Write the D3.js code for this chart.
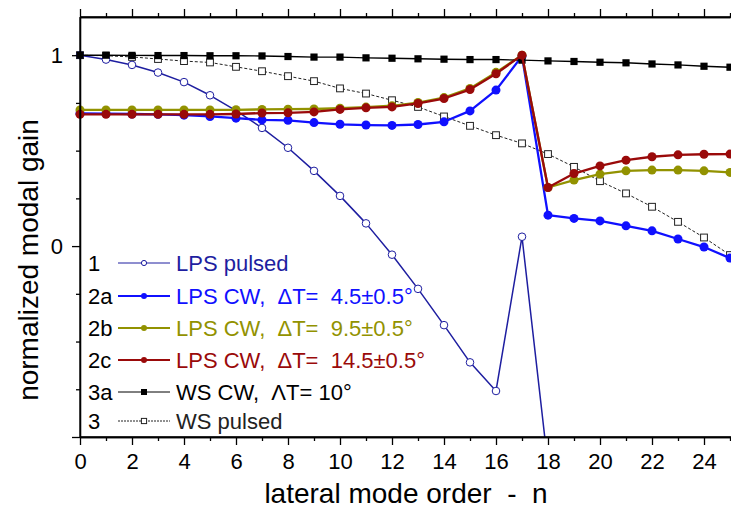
<!DOCTYPE html>
<html><head><meta charset="utf-8">
<script src="https://cdn.jsdelivr.net/npm/d3@7"></script>
<style>body{margin:0;background:#fff}svg{display:block;font-family:Arial,"Liberation Sans",sans-serif}</style>
</head><body><svg id="c" width="731" height="508"></svg>
<script>
// ---------- data ----------
const modeOrder = [0,1,2,3,4,5,6,7,8,9,10,11,12,13,14,15,16,17,18,19,20,21,22,23,24,25];
const lpsPulsed = [1.0,0.977,0.949,0.909,0.859,0.79,0.71,0.619,0.515,0.394,0.263,0.119,-0.045,-0.224,-0.414,-0.609,-0.759,0.049,-1.15];
const lpsCW45  = [0.695,0.694,0.692,0.69,0.686,0.679,0.670,0.661,0.659,0.647,0.638,0.634,0.632,0.637,0.651,0.708,0.817,0.995,0.162,0.145,0.132,0.106,0.08,0.037,-0.005,-0.063];
const lpsCW95  = [0.713,0.713,0.713,0.713,0.713,0.713,0.714,0.716,0.717,0.718,0.722,0.728,0.735,0.752,0.778,0.826,0.91,1.0,0.307,0.346,0.377,0.394,0.398,0.398,0.394,0.386];
const lpsCW145 = [0.69,0.69,0.69,0.69,0.69,0.69,0.692,0.697,0.698,0.703,0.716,0.724,0.729,0.747,0.773,0.82,0.903,1.0,0.307,0.38,0.42,0.45,0.468,0.478,0.481,0.482];
const wsCW     = [1.0,1.0,0.999,0.998,0.998,0.997,0.997,0.996,0.993,0.99,0.99,0.986,0.984,0.981,0.979,0.977,0.977,0.974,0.970,0.967,0.963,0.96,0.954,0.949,0.942,0.937];
const wsPulsed = [1.0,0.997,0.991,0.98,0.969,0.962,0.939,0.916,0.890,0.864,0.826,0.799,0.764,0.729,0.679,0.630,0.581,0.538,0.482,0.415,0.340,0.276,0.206,0.127,0.045,-0.047];
const xMajorTicks = [0,2,4,6,8,10,12,14,16,18,20,22,24];
const xMinorTicks = [1,3,5,7,9,11,13,15,17,19,21,23,25];
const yMajorTicks = [-1,0,1];
const yMinorTicks = [-0.75,-0.5,-0.25,0.25,0.5,0.75];
const yTickLabels = {"0":"0","1":"1"};
const legendIds = ["1","2a","2b","2c","3a","3"];
const legendLabels = ["LPS pulsed","LPS CW,  ΔT=  4.5±0.5°","LPS CW,  ΔT=  9.5±0.5°","LPS CW,  ΔT=  14.5±0.5°","WS CW,  ΛT= 10°","WS pulsed"];
const xTitle = "lateral mode order  -  n";
const yTitle = "normalized modal gain";

// ---------- styles ----------
const styles = {
  "1":  {color:"#1e1ea0", width:1.5, dash:null, marker:"ocircle", r:3.8},
  "2a": {color:"#1010ff", width:2.3, dash:null, marker:"circle", r:4.5},
  "2b": {color:"#929200", width:2.3, dash:null, marker:"circle", r:4.5},
  "2c": {color:"#9a0a0a", width:2.3, dash:null, marker:"circle", r:4.5},
  "3a": {color:"#000000", width:1.4, dash:null, marker:"square", r:3.6},
  "3":  {color:"#222222", width:1.0, dash:"3,2", marker:"osquare", r:3.4}
};
const seriesValues = {"1":lpsPulsed,"2a":lpsCW45,"2b":lpsCW95,"2c":lpsCW145,"3a":wsCW,"3":wsPulsed};
const drawOrder = ["3","1","2a","2b","3a","2c"];

const svg = d3.select("#c");
const L=80, R=730, T=17, B=437;
const x = d3.scaleLinear([0,25],[L,R]);
const y = d3.scaleLinear([-1,1.2],[B,T]);

svg.append("defs").append("clipPath").attr("id","clip")
  .append("rect").attr("x",0).attr("y",T).attr("width",731).attr("height",B-T);

const gData = svg.append("g").attr("clip-path","url(#clip)");
function drawMarker(g, type, cx, cy, r, color){
  if(type==="circle") g.append("circle").attr("cx",cx).attr("cy",cy).attr("r",r).attr("fill",color);
  else if(type==="ocircle") g.append("circle").attr("cx",cx).attr("cy",cy).attr("r",r).attr("fill","#fff").attr("stroke",color).attr("stroke-width",1);
  else if(type==="square") g.append("rect").attr("x",cx-r).attr("y",cy-r).attr("width",2*r).attr("height",2*r).attr("fill",color);
  else if(type==="osquare") g.append("rect").attr("x",cx-r).attr("y",cy-r).attr("width",2*r).attr("height",2*r).attr("fill","#fff").attr("stroke",color).attr("stroke-width",1);
}
drawOrder.forEach(id=>{
  const st = styles[id];
  const vals = seriesValues[id];
  const pts = vals.map((v,i)=>[modeOrder[i], v]);
  const line = d3.line().x(d=>x(d[0])).y(d=>y(d[1]));
  gData.append("path").attr("d",line(pts)).attr("fill","none")
    .attr("stroke",st.color).attr("stroke-width",st.width)
    .attr("stroke-dasharray",st.dash).attr("stroke-linejoin","round");
  const gm = gData.append("g");
  pts.forEach(p=>drawMarker(gm, st.marker, x(p[0]), y(p[1]), st.r, st.color));
});

// ---------- axes ----------
const axStyle = g=>{g.selectAll("path,line").attr("stroke","#000").attr("stroke-width",1.3);
  g.selectAll("text").attr("font-size",22).attr("fill","#000").attr("font-family","Arial, 'Liberation Sans', sans-serif");};
svg.append("g").attr("transform",`translate(0,${B})`)
  .call(d3.axisBottom(x).tickValues(xMajorTicks).tickSize(8).tickSizeOuter(0).tickPadding(8).tickFormat(d3.format("d"))).call(axStyle);
svg.append("g").attr("transform",`translate(0,${B})`)
  .call(d3.axisBottom(x).tickValues(xMinorTicks).tickSize(4).tickSizeOuter(0).tickFormat("")).call(axStyle);
svg.append("g").attr("transform",`translate(0,${T})`)
  .call(d3.axisTop(x).tickValues(xMajorTicks).tickSize(8).tickSizeOuter(0).tickFormat("")).call(axStyle);
svg.append("g").attr("transform",`translate(0,${T})`)
  .call(d3.axisTop(x).tickValues(xMinorTicks).tickSize(4).tickSizeOuter(0).tickFormat("")).call(axStyle);
svg.append("g").attr("transform",`translate(${L},0)`)
  .call(d3.axisLeft(y).tickValues(yMajorTicks).tickSize(8).tickSizeOuter(0).tickPadding(9).tickFormat(d=>yTickLabels[String(d)]||"")).call(axStyle);
svg.append("g").attr("transform",`translate(${L},0)`)
  .call(d3.axisLeft(y).tickValues(yMinorTicks).tickSize(4).tickSizeOuter(0).tickFormat("")).call(axStyle);
svg.append("line").attr("x1",L).attr("x2",731).attr("y1",T).attr("y2",T).attr("stroke","#000").attr("stroke-width",1.3);
svg.append("line").attr("x1",L).attr("x2",L).attr("y1",T).attr("y2",B).attr("stroke","#000").attr("stroke-width",1.3);
svg.append("line").attr("x1",L).attr("x2",731).attr("y1",B).attr("y2",B).attr("stroke","#000").attr("stroke-width",1.3);

// ---------- titles ----------
svg.append("text").attr("x",406).attr("y",503).attr("text-anchor","middle").attr("font-size",28).attr("fill","#000")
  .style("white-space","pre").text(xTitle);
svg.append("text").attr("transform","translate(38,260) rotate(-90)").attr("text-anchor","middle").attr("font-size",28).attr("fill","#000").text(yTitle);

// ---------- legend ----------
const legendRowY = [263,296,328,360,392,421];
const lg = svg.append("g");
legendIds.forEach((id,i)=>{
  const st = styles[id];
  const yy = legendRowY[i];
  lg.append("text").attr("x",88).attr("y",yy).attr("dy","0.36em").attr("font-size",22).attr("fill","#000").text(id);
  lg.append("line").attr("x1",118).attr("x2",170).attr("y1",yy).attr("y2",yy)
    .attr("stroke",st.color).attr("stroke-width",Math.max(1,st.width-0.5)).attr("stroke-dasharray",st.dash?"2,1":null);
  drawMarker(lg, st.marker, 144, yy, id==="3"||id==="1"?2.6:3, st.color);
  lg.append("text").attr("x",176).attr("y",yy).attr("dy","0.36em").attr("font-size",22)
    .attr("fill",st.color).style("white-space","pre").text(legendLabels[i]);
});
</script></body></html>
